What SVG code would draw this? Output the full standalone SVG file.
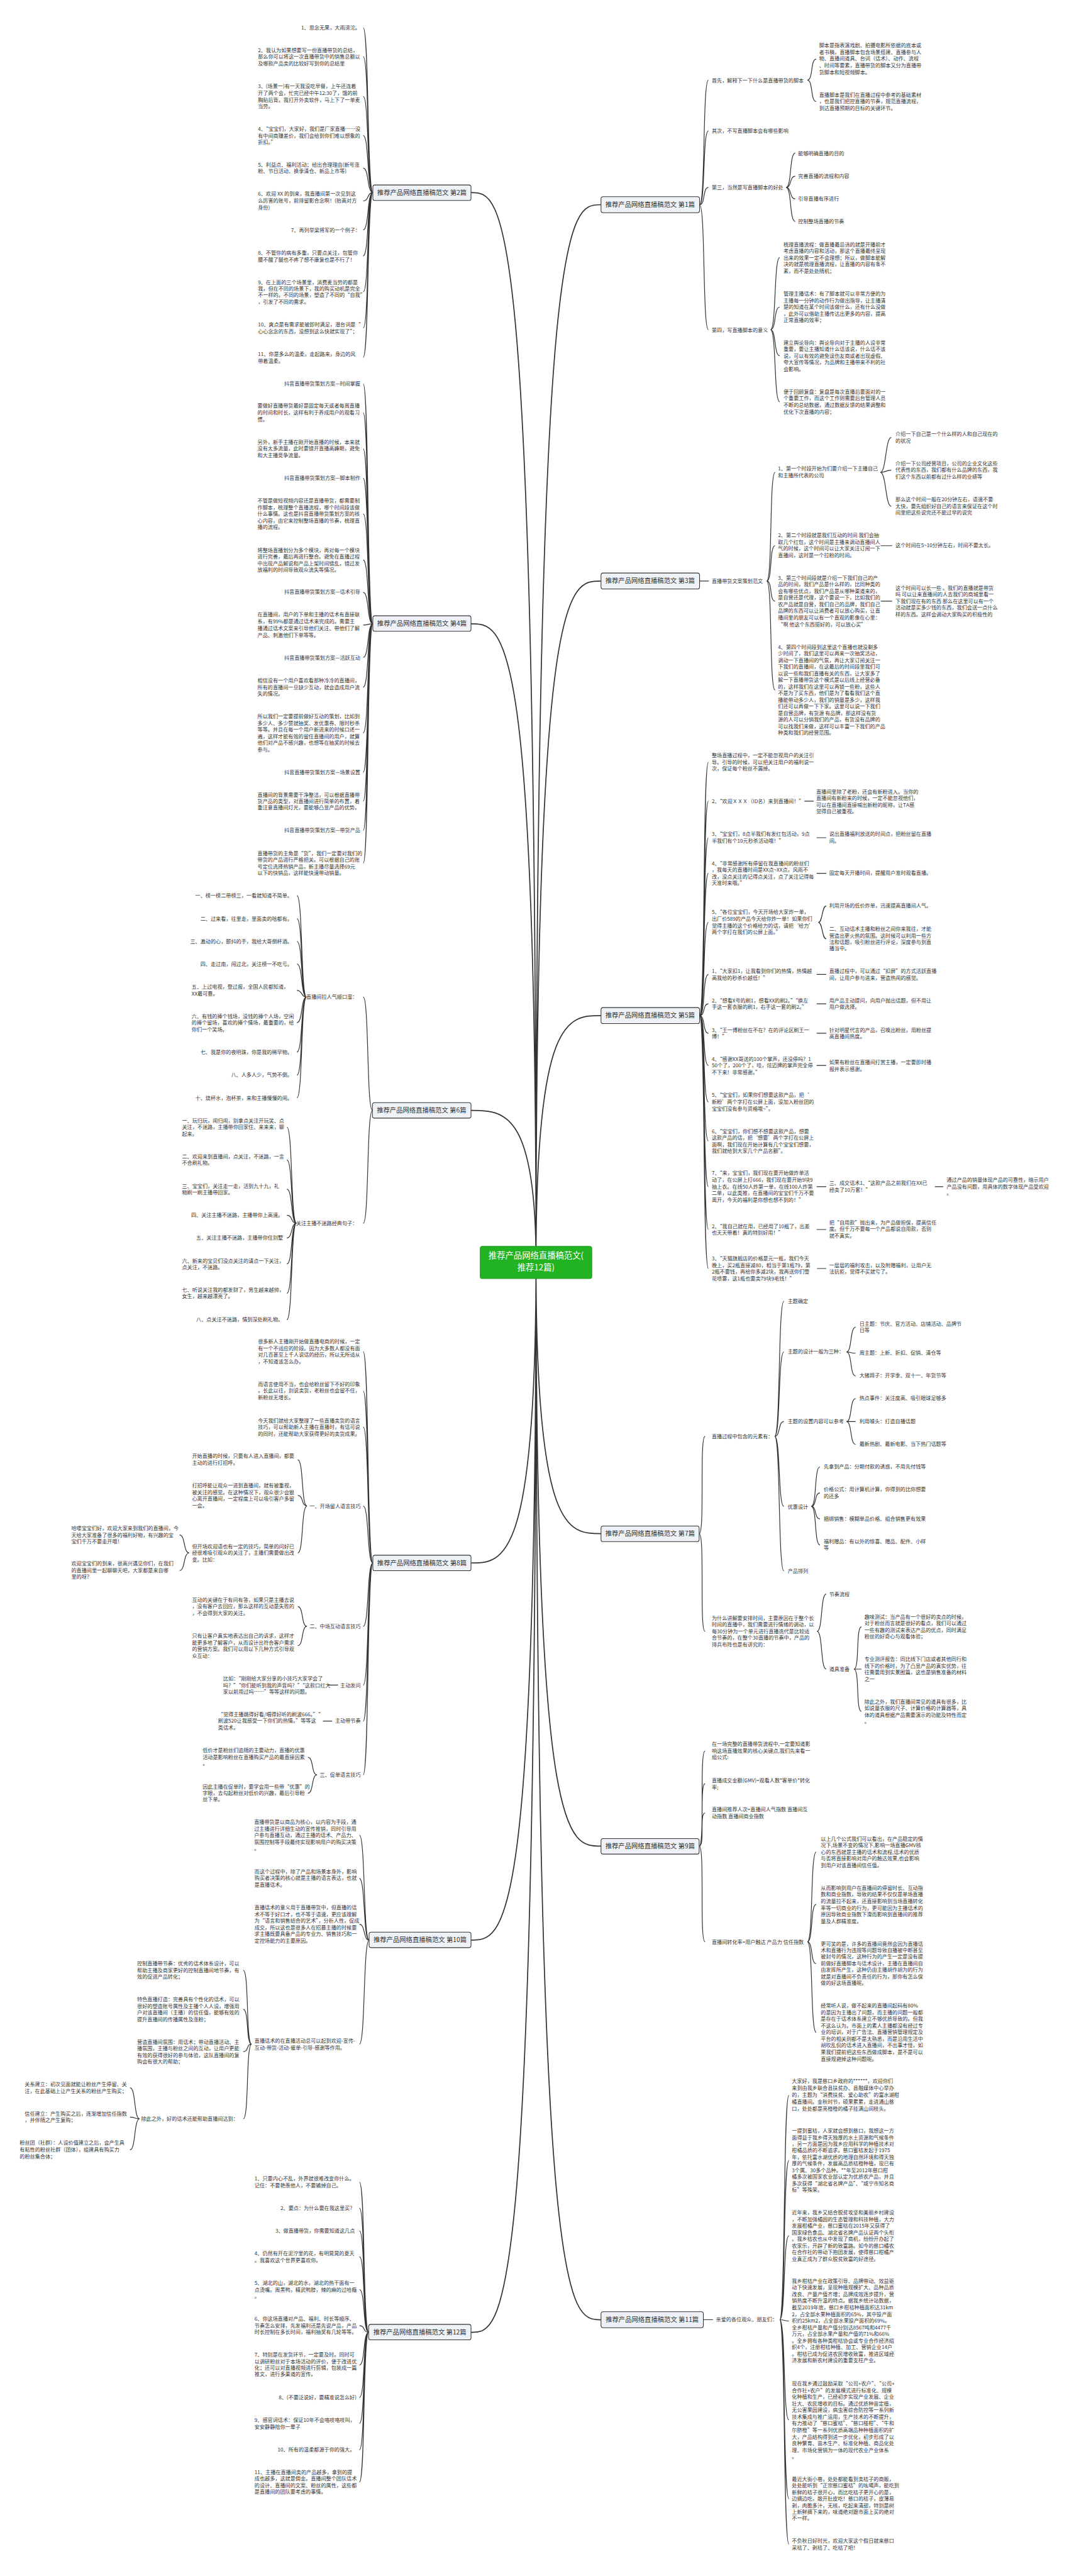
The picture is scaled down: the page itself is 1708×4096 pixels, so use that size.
<svg xmlns="http://www.w3.org/2000/svg" width="1708" height="4096" viewBox="0 0 1708 4096">
<style>
.t{font-family:"Noto Sans CJK SC","Noto Sans",sans-serif;font-size:12.2px;fill:#333}
.e{text-anchor:end}
.nt{font-family:"Noto Sans CJK SC","Noto Sans",sans-serif;font-size:15.5px;fill:#333;text-anchor:middle}
.ct{font-family:"Noto Sans CJK SC","Noto Sans",sans-serif;font-size:20px;fill:#fff;text-anchor:middle}
.box{fill:#eef2f7;stroke:#333;stroke-width:1.6}
.cbox{fill:#22b322;stroke:#1c9a1c;stroke-width:1.5}
.c{fill:none;stroke:#333;stroke-width:1.8}
.m{fill:none;stroke:#333;stroke-width:2.6}
</style>
<rect width="1708" height="4096" fill="#fff"/>
<g transform="scale(0.667)">
<g id="connectors">
<path class="m" d="M1278 3010C1278 488 1355 488 1433 488M1278 3010C1278 1385 1355 1385 1433 1385M1278 3010C1278 2421 1355 2421 1433 2421M1278 3010C1278 3656 1355 3656 1433 3656M1278 3010C1278 4401 1355 4401 1433 4401M1278 3010C1278 5530 1355 5530 1433 5530M1278 3010C1278 459 1200 459 1123 459M1278 3010C1278 1487 1200 1487 1123 1487M1278 3010C1278 2647 1200 2647 1123 2647M1278 3010C1278 3726 1200 3726 1123 3726M1278 3010C1278 4625 1200 4625 1123 4625M1278 3010C1278 5560 1200 5560 1123 5560"/>
<path class="c" d="M889 459C875 459 880 66 866 66M889 459C875 459 880 135 866 135M889 459C875 459 880 230 866 230M889 459C875 459 880 323 866 323M889 459C875 459 880 401 866 401M889 459C875 459 880 479 866 479M889 459C875 459 880 548 866 548M889 459C875 459 880 610 866 610M889 459C875 459 880 696 866 696M889 459C875 459 880 782 866 782M889 459C875 459 880 852 866 852"/>
<path class="c" d="M889 1487C875 1487 880 915 866 915M889 1487C875 1487 880 984 866 984M889 1487C875 1487 880 1070 866 1070M889 1487C875 1487 880 1140 866 1140M889 1487C875 1487 880 1225 866 1225M889 1487C875 1487 880 1335 866 1335M889 1487C875 1487 880 1412 866 1412M889 1487C875 1487 880 1490 866 1490M889 1487C875 1487 880 1567 866 1567M889 1487C875 1487 880 1638 866 1638M889 1487C875 1487 880 1747 866 1747M889 1487C875 1487 880 1841 866 1841M889 1487C875 1487 880 1910 866 1910M889 1487C875 1487 880 1980 866 1980M889 1487C875 1487 880 2058 866 2058"/>
<path class="c" d="M888 2647C874 2647 880 2377 866 2377M888 2647C874 2647 880 2916 866 2916M731 2377C717 2377 722 2135 708 2135M731 2377C717 2377 722 2190 708 2190M731 2377C717 2377 722 2244 708 2244M731 2377C717 2377 722 2298 708 2298M731 2377C717 2377 722 2361 708 2361M731 2377C717 2377 722 2438 708 2438M731 2377C717 2377 722 2508 708 2508M731 2377C717 2377 722 2563 708 2563M731 2377C717 2377 722 2617 708 2617M707 2916C693 2916 698 2687 684 2687M707 2916C693 2916 698 2765 684 2765M707 2916C693 2916 698 2835 684 2835M707 2916C693 2916 698 2897 684 2897M707 2916C693 2916 698 2951 684 2951M707 2916C693 2916 698 3013 684 3013M707 2916C693 2916 698 3083 684 3083M707 2916C693 2916 698 3146 684 3146"/>
<path class="c" d="M889 3726C875 3726 880 3222 866 3222M889 3726C875 3726 880 3316 866 3316M889 3726C875 3726 880 3402 866 3402M889 3726C875 3726 880 3590 866 3590M889 3726C875 3726 880 3877 866 3877M889 3726C875 3726 880 4017 866 4017M889 3726C875 3726 880 4103 866 4103M889 3726C875 3726 880 4231 866 4231M732 3590C718 3590 724 3480 710 3480M732 3590C718 3590 724 3565 710 3565M732 3590C718 3590 724 3702 710 3702M451 3702C437 3702 442 3659 428 3659M451 3702C437 3702 442 3744 428 3744M732 3877C718 3877 724 3830 710 3830M732 3877C718 3877 724 3923 710 3923M806 4017H782M792 4103H770M756 4231C742 4231 748 4189 734 4189M756 4231C742 4231 748 4275 734 4275"/>
<path class="c" d="M880 4625C866 4625 871 4375 857 4375M880 4625C866 4625 871 4478 857 4478M880 4625C866 4625 871 4587 857 4587M880 4625C866 4625 871 4873 857 4873M600 4873C586 4873 594 4697 580 4697M600 4873C586 4873 594 4790 580 4790M600 4873C586 4873 594 4891 580 4891M600 4873C586 4873 594 5051 580 5051M333 5051C319 5051 324 4977 310 4977M333 5051C319 5051 324 5047 310 5047M333 5051C319 5051 324 5125 310 5125"/>
<path class="c" d="M879 5560C865 5560 871 5202 857 5202M879 5560C865 5560 871 5264 857 5264M879 5560C865 5560 871 5318 857 5318M879 5560C865 5560 871 5380 857 5380M879 5560C865 5560 871 5458 857 5458M879 5560C865 5560 871 5544 857 5544M879 5560C865 5560 871 5638 857 5638M879 5560C865 5560 871 5715 857 5715M879 5560C865 5560 871 5777 857 5777M879 5560C865 5560 871 5840 857 5840M879 5560C865 5560 871 5917 857 5917"/>
<path class="c" d="M1668 488C1682 488 1675 191 1689 191M1668 488C1682 488 1675 312 1689 312M1668 488C1682 488 1675 447 1689 447M1668 488C1682 488 1675 786 1689 786M1925 191C1939 191 1932 141 1946 141M1925 191C1939 191 1932 242 1946 242M1874 447C1888 447 1882 365 1896 365M1874 447C1888 447 1882 420 1896 420M1874 447C1888 447 1882 474 1896 474M1874 447C1888 447 1882 528 1896 528M1837 786C1851 786 1845 614 1859 614M1837 786C1851 786 1845 732 1859 732M1837 786C1851 786 1845 848 1859 848M1837 786C1851 786 1845 958 1859 958"/>
<path class="c" d="M1668 1385H1690M1828 1385C1842 1385 1834 1126 1848 1126M1828 1385C1842 1385 1834 1301 1848 1301M1828 1385C1842 1385 1834 1433 1848 1433M1828 1385C1842 1385 1834 1645 1848 1645M2099 1126C2113 1126 2111 1043 2125 1043M2099 1126C2113 1126 2111 1121 2125 1121M2099 1126C2113 1126 2111 1207 2125 1207M2100 1301H2127M2100 1433H2127"/>
<path class="c" d="M1668 2421C1682 2421 1675 1817 1689 1817M1668 2421C1682 2421 1675 1910 1689 1910M1668 2421C1682 2421 1675 1997 1689 1997M1668 2421C1682 2421 1675 2082 1689 2082M1668 2421C1682 2421 1675 2199 1689 2199M1668 2421C1682 2421 1675 2323 1689 2323M1668 2421C1682 2421 1675 2393 1689 2393M1668 2421C1682 2421 1675 2463 1689 2463M1668 2421C1682 2421 1675 2540 1689 2540M1668 2421C1682 2421 1675 2627 1689 2627M1668 2421C1682 2421 1675 2720 1689 2720M1668 2421C1682 2421 1675 2829 1689 2829M1668 2421C1682 2421 1675 2931 1689 2931M1668 2421C1682 2421 1675 3024 1689 3024M1918 1910H1940M1947 1997H1970M1947 2082H1970M1951 2199C1962 2199 1959 2160 1970 2160M1951 2199C1962 2199 1959 2238 1970 2238M1947 2323H1970M1947 2393H1970M1947 2463H1970M1947 2540H1970M1947 2829H1970M2229 2829H2249M1947 2931H1970M1948 3024H1970"/>
<path class="c" d="M1667 3656C1681 3656 1667 3424 1681 3424M1667 3656C1681 3656 1667 3889 1681 3889M1847 3424C1861 3424 1855 3102 1869 3102M1847 3424C1861 3424 1855 3223 1869 3223M1847 3424C1861 3424 1855 3389 1869 3389M1847 3424C1861 3424 1855 3591 1869 3591M1847 3424C1861 3424 1855 3745 1869 3745M2018 3223C2032 3223 2026 3164 2040 3164M2018 3223C2032 3223 2026 3226 2040 3226M2018 3223C2032 3223 2026 3280 2040 3280M2018 3389C2032 3389 2026 3334 2040 3334M2018 3389C2032 3389 2026 3389 2040 3389M2018 3389C2032 3389 2026 3443 2040 3443M1934 3591C1948 3591 1941 3497 1955 3497M1934 3591C1948 3591 1941 3559 1955 3559M1934 3591C1948 3591 1941 3621 1955 3621M1934 3591C1948 3591 1941 3683 1955 3683M1948 3889C1962 3889 1956 3800 1970 3800M1948 3889C1962 3889 1956 3979 1970 3979M2036 3979C2050 3979 2040 3878 2054 3878M2036 3979C2050 3979 2040 3979 2054 3979M2036 3979C2050 3979 2040 4080 2054 4080"/>
<path class="c" d="M1667 4401C1681 4401 1667 4174 1681 4174M1667 4401C1681 4401 1667 4252 1681 4252M1667 4401C1681 4401 1667 4322 1681 4322M1667 4401C1681 4401 1667 4629 1681 4629M1925 4629C1939 4629 1932 4415 1946 4415M1925 4629C1939 4629 1932 4540 1946 4540M1925 4629C1939 4629 1932 4681 1946 4681M1925 4629C1939 4629 1932 4845 1946 4845"/>
<path class="c" d="M1677 5530H1700M1859 5530C1873 5530 1867 4995 1881 4995M1859 5530C1873 5530 1867 5150 1881 5150M1859 5530C1873 5530 1867 5330 1881 5330M1859 5530C1873 5530 1867 5533 1881 5533M1859 5530C1873 5530 1867 5769 1881 5769M1859 5530C1873 5530 1867 5957 1881 5957M1859 5530C1873 5530 1867 6065 1881 6065"/>
</g>
<g id="center"><rect class="cbox" x="1145" y="2971" width="266" height="77" rx="5"/><text class="ct" x="1278" y="3000">推荐产品网络直播稿范文(<tspan x="1278" dy="29">推荐12篇)</tspan></text></g>
<g id="b1"><rect class="box" x="1433" y="469" width="235" height="38" rx="5"/><text class="nt" x="1550" y="493.5">推荐产品网络直播稿范文 第1篇</text></g>
<g id="b2"><rect class="box" x="889" y="441" width="234" height="37" rx="5"/><text class="nt" x="1006" y="465">推荐产品网络直播稿范文 第2篇</text></g>
<g id="b3"><rect class="box" x="1433" y="1366" width="235" height="38" rx="5"/><text class="nt" x="1550" y="1390.5">推荐产品网络直播稿范文 第3篇</text></g>
<g id="b4"><rect class="box" x="889" y="1468" width="234" height="37" rx="5"/><text class="nt" x="1006" y="1492">推荐产品网络直播稿范文 第4篇</text></g>
<g id="b5"><rect class="box" x="1433" y="2402" width="235" height="38" rx="5"/><text class="nt" x="1550" y="2426.5">推荐产品网络直播稿范文 第5篇</text></g>
<g id="b6"><rect class="box" x="888" y="2628.5" width="235" height="37" rx="5"/><text class="nt" x="1005" y="2652.5">推荐产品网络直播稿范文 第6篇</text></g>
<g id="b7"><rect class="box" x="1433" y="3638" width="234" height="37" rx="5"/><text class="nt" x="1550" y="3661.5">推荐产品网络直播稿范文 第7篇</text></g>
<g id="b8"><rect class="box" x="889" y="3707.5" width="234" height="37" rx="5"/><text class="nt" x="1006" y="3731.5">推荐产品网络直播稿范文 第8篇</text></g>
<g id="b9"><rect class="box" x="1433" y="4383" width="234" height="37" rx="5"/><text class="nt" x="1550" y="4407">推荐产品网络直播稿范文 第9篇</text></g>
<g id="b10"><rect class="box" x="880" y="4606" width="243" height="37" rx="5"/><text class="nt" x="1001.5" y="4630">推荐产品网络直播稿范文 第10篇</text></g>
<g id="b11"><rect class="box" x="1433" y="5511" width="244" height="38" rx="5"/><text class="nt" x="1555" y="5535.5">推荐产品网络直播稿范文 第11篇</text></g>
<g id="b12"><rect class="box" x="879" y="5541" width="244" height="37" rx="5"/><text class="nt" x="1001" y="5565">推荐产品网络直播稿范文 第12篇</text></g>

<g id="p2" class="t">
<text class="e" x="859" y="70">1、思念无果，大雨滂沱。</text>
<text x="615" y="124">2、我认为如果想要写一份直播带货的总结，<tspan x="615" dy="15.7">那么你可以将这一次直播带货中的销售总额以</tspan><tspan x="615" dy="15.7">及哪款产品卖的比较好写到你的总结里</tspan></text>
<text x="615" y="210">3、(场景一)有一天我没吃早餐，上午还连着<tspan x="615" dy="16.2">开了两个会，忙完已经中午12:30了，饿的前</tspan><tspan x="615" dy="16.2">胸贴后背。我打开外卖软件，马上下了一单麦</tspan><tspan x="615" dy="16.2">当劳。</tspan></text>
<text x="615" y="312">4、“宝宝们，大家好，我们是厂家直播……没<tspan x="615" dy="15.7">有中间商赚差价，我们会给到你们难以想象的</tspan><tspan x="615" dy="15.7">折扣。”</tspan></text>
<text x="615" y="397">5、利益点、福利活动；给出合理理由(新号涨<tspan x="615" dy="15.7">粉、节日活动、换季清仓、新品上市等)</tspan></text>
<text x="615" y="467">6、欢迎 XX 的到来，我直播间第一次见到这<tspan x="615" dy="16">么厉害的账号，前排留影合念啊！(抬高对方</tspan><tspan x="615" dy="16">身份)</tspan></text>
<text class="e" x="859" y="553">7、再列举梁将军的一个例子：</text>
<text x="615" y="607">8、不管你的病有多重，只要点关注，包管你<tspan x="615" dy="16">腰不酸了腿也不疼了想不康复也是不行了！</tspan></text>
<text x="615" y="677">9、在上面的三个场景里，消费麦当劳的都是<tspan x="615" dy="15.6">我，但在不同的场景下，我的购买动机是完全</tspan><tspan x="615" dy="15.6">不一样的。不同的场景，塑造了不同的“自我”</tspan><tspan x="615" dy="15.6">，引发了不同的需求。</tspan></text>
<text x="615" y="778">10、爽点是有需求能被即时满足，潜台词是“<tspan x="615" dy="16">心心念念的东西，没想到这么快就实现了”；</tspan></text>
<text x="615" y="849">11、你是多么的温柔，走起路来，身边的风<tspan x="615" dy="16">带着温柔。</tspan></text>
</g>

<g id="p4" class="t">
<text class="e" x="859" y="919">抖音直播带货策划方案—时间掌握</text>
<text x="614" y="972">要做好直播带货最好是固定每天或者每周直播<tspan x="614" dy="16">的时间和时长，这样有利于养成用户的观看习</tspan><tspan x="614" dy="16">惯。</tspan></text>
<text x="614" y="1058">另外，新手主播在刚开始直播的时候，本来就<tspan x="614" dy="16">没有太多流量，此时要错开直播高峰期，避免</tspan><tspan x="614" dy="16">和大主播竞争流量。</tspan></text>
<text class="e" x="859" y="1144">抖音直播带货策划方案—脚本制作</text>
<text x="614" y="1198">不管是做短视频内容还是直播带货，都需要制<tspan x="614" dy="15.8">作脚本，梳理整个直播流程，哪个时间段该做</tspan><tspan x="614" dy="15.8">什么事情。这也是抖音直播带货策划方案的核</tspan><tspan x="614" dy="15.8">心内容，由它来控制整场直播的节奏，梳理直</tspan><tspan x="614" dy="15.8">播的流程。</tspan></text>
<text x="614" y="1316">将整场直播划分为多个模块，再对每一个模块<tspan x="614" dy="15.7">进行完善，最后再进行整合。避免在直播过程</tspan><tspan x="614" dy="15.7">中出现产品解说和产品上架时间错乱，错过发</tspan><tspan x="614" dy="15.7">放福利的时间导致观众流失等情况。</tspan></text>
<text class="e" x="859" y="1416">抖音直播带货策划方案—话术引导</text>
<text x="614" y="1470">在直播间，用户的下单和主播的话术有直接联<tspan x="614" dy="16.2">系，有99%都是通过话术来完成的。需要主</tspan><tspan x="614" dy="16.2">播通过话术文案来引导他们关注、带他们了解</tspan><tspan x="614" dy="16.2">产品、刺激他们下单等等。</tspan></text>
<text class="e" x="859" y="1572">抖音直播带货策划方案—活跃互动</text>
<text x="614" y="1627">相信没有一个用户喜欢看那种冷冷的直播间，<tspan x="614" dy="15.6">所有的直播间一旦缺少互动，就会造成用户流</tspan><tspan x="614" dy="15.6">失的情况。</tspan></text>
<text x="614" y="1712">所以我们一定要提前做好互动的策划，比如到<tspan x="614" dy="15.9">多少人、多少赞就抽奖、发优惠券、限时秒杀</tspan><tspan x="614" dy="15.9">等等。并且在每一个用户新进来的时候口述一</tspan><tspan x="614" dy="15.9">遍，这样才能有效的留住直播间的用户，就算</tspan><tspan x="614" dy="15.9">他们对产品不感兴趣，也想等在抽奖的时候去</tspan><tspan x="614" dy="15.9">参与。</tspan></text>
<text class="e" x="859" y="1845">抖音直播带货策划方案—场景设置</text>
<text x="614" y="1899">直播间的背景需要干净整洁，可以根据直播带<tspan x="614" dy="15.6">货产品的类型，对直播间进行简单的布置，着</tspan><tspan x="614" dy="15.6">重注意直播间灯光，要能够凸显产品的优势。</tspan></text>
<text class="e" x="859" y="1984">抖音直播带货策划方案—带货产品</text>
<text x="614" y="2039">直播带货的主角是“货”，我们一定要对我们的<tspan x="614" dy="15.7">带货的产品进行严格把关。可以根据自己的账</tspan><tspan x="614" dy="15.7">号定位选择热销产品，新主播尽量选择69元</tspan><tspan x="614" dy="15.7">以下的快销品，这样能快速带动销量。</tspan></text>
</g>

<g id="p6" class="t">
<text class="e" x="852" y="2381">直播间拉人气顺口溜：</text>
<text class="e" x="697" y="2139">一、榜一榜二带榜三，一看就知道不简单。</text>
<text class="e" x="697" y="2195">二、过来看，往里走，里面卖的啥都有。</text>
<text class="e" x="697" y="2249">三、激动的心，颤抖的手，我给大哥倒杯酒。</text>
<text class="e" x="697" y="2303">四、走过南，闯过北，关注榜一不吃亏。</text>
<text x="457" y="2357">五、上过电视，登过报，全国人民都知道，<tspan x="457" dy="15.7">XX最可靠。</tspan></text>
<text x="457" y="2427">六、有钱的捧个钱场，没钱的捧个人场，空闲<tspan x="457" dy="15.7">的捧个留场，喜欢的捧个情场，最重要的，给</tspan><tspan x="457" dy="15.7">你们一个笑场。</tspan></text>
<text class="e" x="697" y="2512">七、我是你的夜明珠，你是我的稀罕物。</text>
<text class="e" x="697" y="2567">八、人多人少，气势不倒。</text>
<text class="e" x="697" y="2622">十、烧杯水，泡杯茶，来和主播慢慢的闹。</text>
<text class="e" x="852" y="2920">关注主播不迷路经典句子：</text>
<text x="434" y="2676">一、玩归玩，闹归闹，别拿点关注开玩笑、点<tspan x="434" dy="15.7">关注，不迷路，主播带你回家住、来来来，聊</tspan><tspan x="434" dy="15.7">起来。</tspan></text>
<text x="434" y="2761">二、欢迎来到直播间，点关注，不迷路，一言<tspan x="434" dy="15.7">不合刷礼物。</tspan></text>
<text x="434" y="2832">三、宝宝们，关注走一走，活到九十九，礼<tspan x="434" dy="15.7">物刷一刷主播带回家。</tspan></text>
<text class="e" x="675" y="2901">四、关注主播不迷路，主播带你上高速。</text>
<text class="e" x="675" y="2955">五、关注主播不迷路，主播带你住别墅</text>
<text x="434" y="3010">六、新来的宝贝们没点关注的请点一下关注，<tspan x="434" dy="15.7">点关注，不迷路。</tspan></text>
<text x="434" y="3079">七、听说关注我的都发财了，男生越来越帅，<tspan x="434" dy="15.7">女生，越来越漂亮了。</tspan></text>
<text class="e" x="675" y="3150">八、点关注不迷路，情到深处刷礼物。</text>
</g>

<g id="p8" class="t">
<text x="615" y="3203">很多新人主播刚开始做直播电商的时候，一定<tspan x="615" dy="15.8">有一个不适应的阶段。因为大多数人都没有面</tspan><tspan x="615" dy="15.8">对几百甚至上千人说话的经历，所以无所适从</tspan><tspan x="615" dy="15.8">，不知道该怎么办。</tspan></text>
<text x="615" y="3304">而语言使用不当，也会给粉丝留下不好的印象<tspan x="615" dy="15.8">。长此以往，别说卖货，老粉丝也会留不住，</tspan><tspan x="615" dy="15.8">新粉丝无增长。</tspan></text>
<text x="615" y="3391">今天我们就给大家整理了一些直播卖货的语言<tspan x="615" dy="15.7">技巧，可以帮助新人主播在直播时，有话可说</tspan><tspan x="615" dy="15.7">的同时，还能帮助大家获得更好的卖货成果。</tspan></text>
<text class="e" x="860" y="3595">一、开场留人语言技巧</text>
<text x="458" y="3476">开始直播的时候，只要有人进入直播间，都要<tspan x="458" dy="15.7">主动的进行打招呼。</tspan></text>
<text x="458" y="3546">打招呼能让观众一进到直播间，就有被重视，<tspan x="458" dy="15.8">被关注的感觉。在这种情况下，观众很少会狠</tspan><tspan x="458" dy="15.8">心离开直播间，一定程度上可以吸引客户多留</tspan><tspan x="458" dy="15.8">一会。</tspan></text>
<text x="458" y="3691">但开场欢迎语也有一定的技巧，简单的问好已<tspan x="458" dy="15.5">经很难吸引观众的关注了，主播们需要做出改</tspan><tspan x="458" dy="15.5">变。比如：</tspan></text>
<text x="170" y="3648">哈喽宝宝们好，欢迎大家来到我们的直播间，今<tspan x="170" dy="15.7">天给大家准备了很多的福利好物，有兴趣的宝</tspan><tspan x="170" dy="15.7">宝们千万不要走开哦！</tspan></text>
<text x="170" y="3732">欢迎宝宝们的到来，很高兴遇见你们，在我们<tspan x="170" dy="15.7">的直播间里一起聊聊天吧，大家都是来自哪</tspan><tspan x="170" dy="15.7">里的呀？</tspan></text>
<text class="e" x="860" y="3882">二、中场互动语言技巧</text>
<text x="458" y="3818">互动的关键在于有问有答，如果只是主播去说<tspan x="458" dy="15.7">，没有客户去回应，那么这样的互动是失败的</tspan><tspan x="458" dy="15.7">，不会得到大家的关注。</tspan></text>
<text x="458" y="3904">只有让客户真实地表达出自己的诉求，这样才<tspan x="458" dy="15.8">能更多地了解客户，从而设计出符合客户需求</tspan><tspan x="458" dy="15.8">的营销方案。我们可以用以下几种方式引导观</tspan><tspan x="458" dy="15.8">众互动：</tspan></text>
<text class="e" x="860" y="4022">主动发问</text>
<text x="532" y="4006">比如：“刚刚给大家分享的小技巧大家学会了<tspan x="532" dy="15.8">吗？”“你们能听到我的声音吗？”“这款口红大</tspan><tspan x="532" dy="15.8">家以前用过吗……”等等这样的问题。</tspan></text>
<text class="e" x="860" y="4107">主动带节奏</text>
<text x="520" y="4091">“觉得主播跳得好看/唱得好听的刷波666。”“<tspan x="520" dy="15.8">刷波520让我感受一下你们的热情。”等等这</tspan><tspan x="520" dy="15.8">类话术。</tspan></text>
<text class="e" x="860" y="4236">三、促单语言技巧</text>
<text x="483" y="4177">低价才是粉丝们追随的主要动力，直播的优惠<tspan x="483" dy="15.8">活动是影响粉丝在直播购买产品的最直接因素</tspan><tspan x="483" dy="15.8">。</tspan></text>
<text x="483" y="4264">因此主播在促单时，要学会用一些带“优惠”的<tspan x="483" dy="15.3">字眼，去勾起粉丝对低价的兴趣，最后引导粉</tspan><tspan x="483" dy="15.3">丝下单。</tspan></text>
</g>

<g id="p10" class="t">
<text x="606" y="4348">直播带货是以商品为核心，以内容为手段，通<tspan x="606" dy="15.8">过主播进行详细生动的宣传推销，同时引导用</tspan><tspan x="606" dy="15.8">户参与直播互动，通过主播的话术、产品力、</tspan><tspan x="606" dy="15.8">氛围控制等手段最终实现影响用户的购买决策</tspan><tspan x="606" dy="15.8">。</tspan></text>
<text x="607" y="4466">而这个过程中，除了产品和场景本身外，影响<tspan x="607" dy="15.8">购买者决策的核心就是主播的语言表达，也就</tspan><tspan x="607" dy="15.8">是直播话术。</tspan></text>
<text x="607" y="4552">直播话术的意义用于直播带货中，但直播的话<tspan x="607" dy="15.7">术不等于好口才，也不等于语速，更应该理解</tspan><tspan x="607" dy="15.7">为“语言和销售结合的艺术”，分析人性，促成</tspan><tspan x="607" dy="15.7">成交，所以这也是很多人在招募主播的时候要</tspan><tspan x="607" dy="15.7">求主播既要具备产品的专业力、销售技巧和一</tspan><tspan x="607" dy="15.7">定控场能力的主要原因。</tspan></text>
<text x="607" y="4870">直播话术的在直播活动总可以起到欢迎-宣传-<tspan x="607" dy="15.5">互动-带货-活动-催单-引导-感谢等作用。</tspan></text>
<text x="327" y="4685">控制直播带节奏：优秀的话术体系设计，可以<tspan x="327" dy="16">帮助主播及商家更好的控制直播间地节奏，有</tspan><tspan x="327" dy="16">效的促进产品转化；</tspan></text>
<text x="327" y="4771">特色直播打造：完善具有个性化的话术，可以<tspan x="327" dy="15.7">很好的塑造账号属性及主播个人人设，增强用</tspan><tspan x="327" dy="15.7">户对该直播间（主播）的信任值，能够有效的</tspan><tspan x="327" dy="15.7">提升直播间的传播属性及涨粉；</tspan></text>
<text x="327" y="4872">营造直播间氛围：用话术；带动直播活动、主<tspan x="327" dy="15.7">播氛围，主播与粉丝之间的互动，让用户更能</tspan><tspan x="327" dy="15.7">有效的获得很好的参与体验，这队直播间的复</tspan><tspan x="327" dy="15.7">购会有很大的帮助；</tspan></text>
<text class="e" x="568" y="5056">除此之外，好的话术还能帮助直播间达到：</text>
<text x="59" y="4973">关系建立：初次见面就能让粉丝产生停留、关<tspan x="59" dy="16">注，在此基础上让产生关系的粉丝产生购买；</tspan></text>
<text x="59" y="5043">信任建立：产生购买之后，逐渐增加信任指数<tspan x="59" dy="16">，并伴随之产生复购；</tspan></text>
<text x="47" y="5113">粉丝团（社群）：人设价值建立之后，会产生具<tspan x="47" dy="16">有粘性的粉丝社群（团体），组建具有购买力</tspan><tspan x="47" dy="16">的粉丝集合体；</tspan></text>
</g>

<g id="p12" class="t">
<text x="607" y="5198">1、只要内心不乱，外界就很难改变你什么。<tspan x="607" dy="16">记住：不要艳羡他人，不要输掉自己。</tspan></text>
<text class="e" x="846" y="5268">2、要点：为什么要在我这里买？</text>
<text class="e" x="846" y="5322">3、做直播带货，你需要知道这几点</text>
<text x="607" y="5377">4、仍然有开在泥泞里的花，有明晃晃的夏天<tspan x="607" dy="16">。我喜欢这个世界更喜欢你。</tspan></text>
<text x="607" y="5447">5、湖北的山，湖北的水，湖北的热干面有一<tspan x="607" dy="16">点烫嘴。周黑鸭，精武鸭脖，辣的麻的过哈瘾</tspan><tspan x="607" dy="16">。</tspan></text>
<text x="607" y="5532">6、你这场直播对产品、福利、时长等顺序、<tspan x="607" dy="16">节奏怎么安排，先发福利还是先说产品，产品</tspan><tspan x="607" dy="16">时长控制在多长时间，福利抽奖有几轮等等。</tspan></text>
<text x="607" y="5618">7、特别是在发货环节，一定要及时。同时可<tspan x="607" dy="15.6">以调研粉丝对于本场活动的评价，便于改进优</tspan><tspan x="607" dy="15.6">化；还可以对直播视频进行剪辑，包装成一篇</tspan><tspan x="607" dy="15.6">推文，进行多渠道的宣传。</tspan></text>
<text class="e" x="850" y="5719">8、(不要泛说好，要精准说怎么好)</text>
<text x="607" y="5774">9、感官词话术：保证10年不会咯吱咯吱叫，<tspan x="607" dy="15.6">安安静静陪你一辈子</tspan></text>
<text class="e" x="846" y="5844">10、所有的温柔都源于你的强大。</text>
<text x="607" y="5898">11、主播在直播间卖的产品越多，拿到的提<tspan x="607" dy="15.6">成也越多，这就是佣金。直播间整个团队话术</tspan><tspan x="607" dy="15.6">的设计、直播间的文案、粉丝的属性，这些都</tspan><tspan x="607" dy="15.6">是直播间的团队要考虑的事情。</tspan></text>
</g>

<g id="p1" class="t">
<text x="1697" y="196">首先，解释下一下什么是直播带货的脚本</text>
<text x="1953" y="113">脚本是指表演戏剧、拍摄电影所依据的底本或<tspan x="1953" dy="15.8">者书稿，直播脚本包含场景搭建、直播参与人</tspan><tspan x="1953" dy="15.8">物、直播间道具、台词（话术）、动作、流程</tspan><tspan x="1953" dy="15.8">、时间等要素，直播带货的脚本又分为直播带</tspan><tspan x="1953" dy="15.8">货脚本和短视频脚本。</tspan></text>
<text x="1953" y="231">直播脚本是我们在直播过程中参考的基础素材<tspan x="1953" dy="15.5">，也是我们把控直播的节奏，规范直播流程，</tspan><tspan x="1953" dy="15.5">到达直播预期的目标的关键环节。</tspan></text>
<text x="1697" y="316">其次，不写直播脚本会有哪些影响</text>
<text x="1697" y="451">第三，当然是写直播脚本的好处</text>
<text x="1903" y="370">能够明确直播的目的</text>
<text x="1903" y="424">完善直播的流程和内容</text>
<text x="1903" y="478">引导直播有序进行</text>
<text x="1903" y="532">控制整场直播的节奏</text>
<text x="1697" y="791">第四，写直播脚本的意义</text>
<text x="1868" y="587">梳理直播流程：做直播最忌讳的就是开播前才<tspan x="1868" dy="15.8">考虑直播的内容和活动，那这个直播最终呈现</tspan><tspan x="1868" dy="15.8">出来的效果一定不会理想；所以，做脚本能解</tspan><tspan x="1868" dy="15.8">决的就是梳理直播流程，让直播的内容有条不</tspan><tspan x="1868" dy="15.8">紊，而不是处处随机；</tspan></text>
<text x="1868" y="705">管理主播话术：有了脚本就可以非常方便的为<tspan x="1868" dy="15.8">主播每一分钟的动作行为做出指导，让主播清</tspan><tspan x="1868" dy="15.8">楚的知道在某个时间该做什么，还有什么没做</tspan><tspan x="1868" dy="15.8">，此外可以借助主播传达出更多的内容，提高</tspan><tspan x="1868" dy="15.8">正常直播的效率；</tspan></text>
<text x="1868" y="821">建立舆论导向：舆论导向对于主播的人设非常<tspan x="1868" dy="15.8">重要，要让主播知道什么话该说，什么话不该</tspan><tspan x="1868" dy="15.8">说，可以有效的避免误伤友商或者出现虚假、</tspan><tspan x="1868" dy="15.8">夸大宣传等情况，为品牌和主播带来不利的社</tspan><tspan x="1868" dy="15.8">会影响。</tspan></text>
<text x="1868" y="938">便于回顾复盘：复盘是每次直播后要面对的一<tspan x="1868" dy="16">个重要工作，而这个工作则需要后台管理人员</tspan><tspan x="1868" dy="16">不断的总结数据，通过数据反馈的结果调整和</tspan><tspan x="1868" dy="16">优化下次直播的内容；</tspan></text>
</g>

<g id="p3" class="t">
<text x="1697" y="1390">直播带货文案策划范文</text>
<text x="1855" y="1122">1、第一个时段开始为们要介绍一下主播自己<tspan x="1855" dy="16">和主播所代表的公司</tspan></text>
<text x="2135" y="1039">介绍一下自己是一个什么样的人和自己现在的<tspan x="2135" dy="16">的状况</tspan></text>
<text x="2135" y="1109">介绍一下公司经营项目，公司的企业文化这些<tspan x="2135" dy="16">代表性的东西，我们都有什么品牌的东西，我</tspan><tspan x="2135" dy="16">们这个东西以前都有过什么样的业绩等</tspan></text>
<text x="2135" y="1195">那么这个时间一般在20分钟左右，语速不要<tspan x="2135" dy="16">太快，要先组织好自己的语言来保证在这个时</tspan><tspan x="2135" dy="16">间里把这些说完还不能过早的说完</tspan></text>
<text x="1855" y="1281">2、第二个时段就是我们互动的时间 我们会抽<tspan x="1855" dy="15.7">取几个红包，这个时间是主播来调动直播间人</tspan><tspan x="1855" dy="15.7">气的时候，这个时间可以让大家关注订阅一下</tspan><tspan x="1855" dy="15.7">直播间，这时是一个拉粉的时间。</tspan></text>
<text x="2135" y="1305">这个时间在5~10分钟左右，时间不要太长。</text>
<text x="1855" y="1382">3、第三个时间段就是介绍一下我们自己的产<tspan x="1855" dy="15.8">品的时间，我们产品是什么样的，比同种类的</tspan><tspan x="1855" dy="15.8">会有哪些优点，我们产品是从哪种渠道来的，</tspan><tspan x="1855" dy="15.8">是自营还是代理，这个要说一下，比如我们的</tspan><tspan x="1855" dy="15.8">农产品就是自营，我们自己的品牌，我们自己</tspan><tspan x="1855" dy="15.8">品牌的东西可以让消费者可以放心购买，让直</tspan><tspan x="1855" dy="15.8">播间里的朋友可以有一个直观的影像在心里：</tspan><tspan x="1855" dy="15.8">“啊 他这个东西挺好的，可以放心买”</tspan></text>
<text x="2135" y="1406">这个时间可以长一些 。我们的直播就是带货<tspan x="2135" dy="15.8">吗 可以让来直播间的人去我们的商城里看一</tspan><tspan x="2135" dy="15.8">下我们现在有的东西 那么在这里可以有一个</tspan><tspan x="2135" dy="15.8">活动就是买多少钱的东西，我们会送一点什么</tspan><tspan x="2135" dy="15.8">样的东西。这样会调动大家购买的积极性的</tspan></text>
<text x="1855" y="1547">4、第四个时间段到这里这个直播也就没剩多<tspan x="1855" dy="15.7">少时间了，我们这里可以再来一次抽奖活动，</tspan><tspan x="1855" dy="15.7">调动一下直播间的气氛，再让大家订阅关注一</tspan><tspan x="1855" dy="15.7">下我们的直播间，在这最后的时间段里我们可</tspan><tspan x="1855" dy="15.7">以说一些和我们直播有关的东西，让大家多了</tspan><tspan x="1855" dy="15.7">解一下直播带货这个模式是以后线上经营必备</tspan><tspan x="1855" dy="15.7">的，这样我们在这里可以再锁一些粉，这些人</tspan><tspan x="1855" dy="15.7">不是为了买东西，他们是为了看看我们这个直</tspan><tspan x="1855" dy="15.7">播能带动多少人，我们的销量是多少，这样我</tspan><tspan x="1855" dy="15.7">们还可以再做一下下家。这里可以说一下我们</tspan><tspan x="1855" dy="15.7">是自营品牌，有货源 有品牌，那这样没有货</tspan><tspan x="1855" dy="15.7">源的人可以分销我们的产品，有货没有品牌的</tspan><tspan x="1855" dy="15.7">可以找我们来做，这样可以丰富一下我们的产品</tspan><tspan x="1855" dy="15.7">种类和我们的经营范围。</tspan></text>
</g>

<g id="p5" class="t">
<text x="1697" y="1805">整场直播过程中，一定不能忽视用户的关注引<tspan x="1697" dy="16">导。引导的时候，可以把关注用户的福利说一</tspan><tspan x="1697" dy="16">次，保证每个粉丝不漏掉。</tspan></text>
<text x="1697" y="1915">2、“欢迎ＸＸＸ（ID名）来到直播间！”</text>
<text x="1946" y="1892">直播间里除了老粉，还会有新粉进入。当你的<tspan x="1946" dy="15.5">直播间有新粉来的时候，一定不能忽视他们，</tspan><tspan x="1946" dy="15.5">可以在直播间直接喊出新粉的昵称，让TA感</tspan><tspan x="1946" dy="15.5">觉得自己被重视。</tspan></text>
<text x="1697" y="1993">3、“宝宝们，8点半我们有发红包活动，9点<tspan x="1697" dy="16">半我们有个10元秒杀活动哦！”</tspan></text>
<text x="1977" y="1993">说出直播福利放送的时间点，把粉丝留在直播<tspan x="1977" dy="16">间。</tspan></text>
<text x="1697" y="2063">4、“非常感谢所有停留在我直播间的粉丝们<tspan x="1697" dy="15.7">，我每天的直播时间是XX点~XX点，风雨不</tspan><tspan x="1697" dy="15.7">改，没点关注的记得点关注，点了关注记得每</tspan><tspan x="1697" dy="15.7">天准时来哦。”</tspan></text>
<text x="1977" y="2086">固定每天开播时间，提醒用户准时观看直播。</text>
<text x="1697" y="2179">5、“各位宝宝们，今天开场给大家炸一单，<tspan x="1697" dy="16">出厂价589的产品今天给你炸一单！如果你们</tspan><tspan x="1697" dy="16">觉得主播的这个价格给力的话，请把‘给力’</tspan><tspan x="1697" dy="16">两个字打在我们的公屏上面。”</tspan></text>
<text x="1977" y="2164">利用开场的低价炸单，迅速提高直播间人气。</text>
<text x="1977" y="2219">二、互动话术主播和粉丝之间你来我往，才能<tspan x="1977" dy="15.7">营造出更火热的氛围。这时候可以利用一些方</tspan><tspan x="1977" dy="15.7">法和话题，吸引粉丝进行评论，深度参与到直</tspan><tspan x="1977" dy="15.7">播当中。</tspan></text>
<text x="1697" y="2320">1、“大家扣1，让我看到你们的热情，热情越<tspan x="1697" dy="15.5">高我给的秒杀价越低！”</tspan></text>
<text x="1977" y="2320">直播过程中，可以通过“扣屏”的方式活跃直播<tspan x="1977" dy="15.5">间，让用户参与进来，营造热闹的感觉。</tspan></text>
<text x="1697" y="2390">2、“想看X号的刷1，想看XX的刷2。”“换左<tspan x="1697" dy="15.5">手这一套衣服的刷1，右手这一套的刷2。”</tspan></text>
<text x="1977" y="2390">用产品主动提问，向用户抛出话题，但不用让<tspan x="1977" dy="15.5">用户做选择。</tspan></text>
<text x="1697" y="2460">3、“王一博粉丝在不在？在的评论区刷王一<tspan x="1697" dy="16">博！”</tspan></text>
<text x="1977" y="2460">针对明星代言的产品，召唤出粉丝，用粉丝提<tspan x="1977" dy="16">高直播间热度。</tspan></text>
<text x="1697" y="2529">4、“感谢XX哥送的100个掌声，还没停吗？1<tspan x="1697" dy="15.6">50个了，200个了，哇，炫迈牌的掌声完全停</tspan><tspan x="1697" dy="15.6">不下来！非常感谢。”</tspan></text>
<text x="1977" y="2537">如果有粉丝在直播间打赏主播，一定要即时播<tspan x="1977" dy="16">报并表示感谢。</tspan></text>
<text x="1697" y="2615">5、“宝宝们，如果你们想要这款产品，把‘<tspan x="1697" dy="16">新粉’两个字打在公屏上面，没加入粉丝团的</tspan><tspan x="1697" dy="16">宝宝们没有参与资格哦~”。</tspan></text>
<text x="1697" y="2701">6、“宝宝们，你们想不想要这款产品，想要<tspan x="1697" dy="15.7">这款产品的话，把‘想要’两个字打在公屏上</tspan><tspan x="1697" dy="15.7">面啊，我们现在开始计算有几个宝宝们想要，</tspan><tspan x="1697" dy="15.7">我们就给到大家几个产品名额”。</tspan></text>
<text x="1697" y="2801">7、“来，宝宝们，我们现在要开始做炸单活<tspan x="1697" dy="16">动了，在公屏上打666，我们现在要开始9块9</tspan><tspan x="1697" dy="16">抽上衣。在线50人炸第一单，在线100人炸第</tspan><tspan x="1697" dy="16">二单，以此类推，在直播间的宝宝们千万不要</tspan><tspan x="1697" dy="16">离开，今天的福利是你想也想不到的！”</tspan></text>
<text x="1977" y="2825">三、成交话术1、“这款产品之前我们在XX已<tspan x="1977" dy="16">经卖了10万套！”</tspan></text>
<text x="2257" y="2817">通过产品的销量体现产品的可靠性，暗示用户<tspan x="2257" dy="16">产品没有问题，用具体的数字体现产品受欢迎</tspan><tspan x="2257" dy="16">。</tspan></text>
<text x="1697" y="2928">2、“我自己就在用，已经用了10瓶了，出差<tspan x="1697" dy="15.5">也天天带着！真的特别好用！”</tspan></text>
<text x="1977" y="2919">把“自用款”抛出来，为产品做担保，提高信任<tspan x="1977" dy="15.7">度。但千万不要每一个产品都说自用款，否则</tspan><tspan x="1977" dy="15.7">就不真实。</tspan></text>
<text x="1697" y="3005">3、“天猫旗舰店的价格是元一瓶，我们今天<tspan x="1697" dy="15.7">晚上，买2瓶直接减80，相当于第1瓶79，第</tspan><tspan x="1697" dy="15.7">2瓶不要钱，再给你多减2块，我再送你们雪</tspan><tspan x="1697" dy="15.7">花喷雾，这1瓶也要卖79块9毛钱！”</tspan></text>
<text x="1977" y="3021">一层层的福利攻击，以及附赠福利，让用户无<tspan x="1977" dy="15.7">法抗拒，觉得不买就亏了。</tspan></text>
</g>

<g id="p7" class="t">
<text x="1697" y="3429">直播过程中包含的元素有：</text>
<text x="1878" y="3106">主题确定</text>
<text x="1878" y="3227">主题的设计一般为三种：</text>
<text x="2049" y="3160">日主题：节庆、官方活动、店铺活动、品牌节<tspan x="2049" dy="15.8">日等</tspan></text>
<text x="2049" y="3230">周主题：上新、折扣、促销、清仓等</text>
<text x="2049" y="3284">大猪蹄子：开学季、双十一、年货节等</text>
<text x="1878" y="3393">主题的设置内容可以参考</text>
<text x="2049" y="3338">热点事件：关注度高、吸引眼球足够多</text>
<text x="2049" y="3393">利用噱头：打造自播话题</text>
<text x="2049" y="3447">最新热剧、最新电影、当下热门话题等</text>
<text x="1878" y="3596">优惠设计</text>
<text x="1964" y="3501">先拿到产品：分期付款的诱惑，不用先付钱等</text>
<text x="1964" y="3555">价格公式：用计算机计算，你得到的比你想要<tspan x="1964" dy="15.7">的还多</tspan></text>
<text x="1964" y="3625">捆绑销售：模糊单品价格、组合销售更有效果</text>
<text x="1964" y="3679">福利赠品：有以外的惊喜、赠品、配件、小样<tspan x="1964" dy="15.7">等</tspan></text>
<text x="1878" y="3750">产品排列</text>
<text x="1697" y="3862">为什么讲解要安排时间，主要原因在于整个长<tspan x="1697" dy="15.7">时间的直播中，我们需要进行情绪的调动，以</tspan><tspan x="1697" dy="15.7">每30分钟为一个单元进行直播迭代是比较适</tspan><tspan x="1697" dy="15.7">合节奏的，在整个30直播的节奏中，产品的</tspan><tspan x="1697" dy="15.7">排兵布阵也是有讲究的：</tspan></text>
<text x="1977" y="3805">节奏流程</text>
<text x="1977" y="3983">道具准备</text>
<text x="2061" y="3859">趣味测试：当产品有一个很好的卖点的时候，<tspan x="2061" dy="15.7">对于粉丝而言就是很好的看点，我们可以通过</tspan><tspan x="2061" dy="15.7">一些有趣的测试来表达产品的优点，同时满足</tspan><tspan x="2061" dy="15.7">粉丝的好奇心与观看体验；</tspan></text>
<text x="2061" y="3960">专业测评报告：同比线下门店或者其他同行和<tspan x="2061" dy="15.7">线下的价格时，为了凸显产品的真实优势，往</tspan><tspan x="2061" dy="15.7">往需要用到实景图篇，这也是销售准备的材料</tspan><tspan x="2061" dy="15.7">之一</tspan></text>
<text x="2061" y="4061">除此之外，我们直播间常见的道具有很多，比<tspan x="2061" dy="15.7">如说量衣服的尺子、计算价格的计算器等，具</tspan><tspan x="2061" dy="15.7">体的道具根据产品需要演示的功能及特性而定</tspan><tspan x="2061" dy="15.7">。</tspan></text>
</g>

<g id="p9" class="t">
<text x="1697" y="4162">在一场完整的直播带货流程中,一定要知道影<tspan x="1697" dy="15.7">响这场直播效果的核心关键点,我们先来看一</tspan><tspan x="1697" dy="15.7">组公式:</tspan></text>
<text x="1697" y="4249">直播成交金额(GMV)=观看人数*客单价*转化<tspan x="1697" dy="15.7">率;</tspan></text>
<text x="1697" y="4318">直播间推荐人次=直播间人气指数 直播间互<tspan x="1697" dy="15.7">动指数 直播间商业指数</tspan></text>
<text x="1697" y="4634">直播间转化率=用户触达 产品力 信任指数</text>
<text x="1957" y="4388">以上几个公式我们可以看出，在产品稳定的情<tspan x="1957" dy="15.7">况下,场景不变的情况下,影响一场直播GMV核</tspan><tspan x="1957" dy="15.7">心的东西就是主播的话术和流程,话术的优质</tspan><tspan x="1957" dy="15.7">与否将直接影响对用户的触达效果,也会影响</tspan><tspan x="1957" dy="15.7">到用户对该直播间信任值。</tspan></text>
<text x="1957" y="4505">从而影响到用户在直播间的停留时长、互动指<tspan x="1957" dy="15.9">数和商业指数，导致的结果不仅仅是单场直播</tspan><tspan x="1957" dy="15.9">的流量拉不起来，还直接影响到当场直播转化</tspan><tspan x="1957" dy="15.9">率等一切商业的行为，更可能因为主播话术的</tspan><tspan x="1957" dy="15.9">原因导致商业指数下滑而影响到直播间的推荐</tspan><tspan x="1957" dy="15.9">量及人群精准度。</tspan></text>
<text x="1957" y="4638">更可笑的是，许多的直播间竟然会因为直播话<tspan x="1957" dy="15.7">术和直播行为违规等问题导致自播被中断甚至</tspan><tspan x="1957" dy="15.7">被封号的情况，这种行为的产生一定是没有提</tspan><tspan x="1957" dy="15.7">前做好直播脚本与话术设计，主播在直播间自</tspan><tspan x="1957" dy="15.7">由发挥所产生，这种仍由主播胡作胡为的行为</tspan><tspan x="1957" dy="15.7">就是对直播间不负责任的行为，那你有怎么保</tspan><tspan x="1957" dy="15.7">做的好这场直播呢。</tspan></text>
<text x="1957" y="4786">经常听人说，做不起来的直播间起码有80%<tspan x="1957" dy="15.8">的是因为主播出了问题，而主播的问题一般都</tspan><tspan x="1957" dy="15.8">是存在于话术体系建立不够优质导致的。但我</tspan><tspan x="1957" dy="15.8">不这么认为。市面上的素人主播都没有经过专</tspan><tspan x="1957" dy="15.8">业的培训，对于广告法、直播营销管理规定及</tspan><tspan x="1957" dy="15.8">平台的相关则都不是太熟悉，而是沿用生活中</tspan><tspan x="1957" dy="15.8">胡吹乱侃的话术进入直播间，不出事才怪，如</tspan><tspan x="1957" dy="15.8">果我们提前把这些东西做成脚本，是不是可以</tspan><tspan x="1957" dy="15.8">直接规避掉这种问题呢。</tspan></text>
</g>

<g id="p11" class="t">
<text x="1707" y="5534">亲爱的各位观众、朋友们：</text>
<text x="1888" y="4966">大家好，我是慈口乡政府的******，欢迎你们<tspan x="1888" dy="16.2">来到由我乡联合县扶贫办、县融媒体中心举办</tspan><tspan x="1888" dy="16.2">的，主题为“消费扶贫、爱心助农”的富水湖柑</tspan><tspan x="1888" dy="16.2">橘直播间。金秋时节，硕果累累，走进通山慈</tspan><tspan x="1888" dy="16.2">口，处处都是亮橙橙的橘子挂满山间枝头。</tspan></text>
<text x="1888" y="5084">一提到蜜桔，人家就会想到慈口，我想这一方<tspan x="1888" dy="15.7">面得益于我乡得天独厚的水土资源和气候条件</tspan><tspan x="1888" dy="15.7">，另一方面是因为我乡应用科学的种植技术对</tspan><tspan x="1888" dy="15.7">柑橘品质的不断追求。慈口蜜桔发起于1975</tspan><tspan x="1888" dy="15.7">年，依托富水湖优质的地理自然环境和得天独</tspan><tspan x="1888" dy="15.7">厚的气候条件，发展高品质桔橙种植，现已有</tspan><tspan x="1888" dy="15.7">3个属、30多个品种。**年至2012年慈口柑</tspan><tspan x="1888" dy="15.7">橘多次被国家农业部认定为优质农产品，并且</tspan><tspan x="1888" dy="15.7">多次获得“湖北省名牌产品”、“咸宁市知名商</tspan><tspan x="1888" dy="15.7">标”等殊荣。</tspan></text>
<text x="1888" y="5279">近年来，我乡又结合脱贫攻坚和美丽乡村建设<tspan x="1888" dy="15.8">，不断加强橘园的生态管理和科技种植，大力</tspan><tspan x="1888" dy="15.8">发展柑橘产业，慈口蜜桔在2015年又获得了</tspan><tspan x="1888" dy="15.8">国家绿色食品、湖北省名牌产品认证两个头衔</tspan><tspan x="1888" dy="15.8">。我乡桔农也从中发现了商机，纷纷开办起了</tspan><tspan x="1888" dy="15.8">农家乐，开辟了新的致富路。如今的慈口橘农</tspan><tspan x="1888" dy="15.8">在合作社的带动下抱团发展，使得慈口柑橘产</tspan><tspan x="1888" dy="15.8">业真正成为了群众脱贫致富的好途径。</tspan></text>
<text x="1888" y="5442">我乡柑桔产业在政策引导、品牌带动、效益驱<tspan x="1888" dy="15.8">动下快速发展，呈现种植规模扩大、品种品质</tspan><tspan x="1888" dy="15.8">改良、产量产值齐增；品牌成效逐步提升，营</tspan><tspan x="1888" dy="15.8">销热度不断升温的特点。据我乡统计站数据，</tspan><tspan x="1888" dy="15.8">截至2019年底，慈口乡柑桔种植面积达31km</tspan><tspan x="1888" dy="15.8">2，占全部水果种植面积的65%，其中投产面</tspan><tspan x="1888" dy="15.8">积约25km2，占全部水果投产面积的69%。</tspan><tspan x="1888" dy="15.8">全乡柑桔产量和产值分别达8567吨和4477千</tspan><tspan x="1888" dy="15.8">万元，占全部水果产量和产值的71%和66%</tspan><tspan x="1888" dy="15.8">。全乡拥有各种类柑桔协会或专业合作经济组</tspan><tspan x="1888" dy="15.8">织4个，注册柑桔种植、加工、营销企业14户</tspan><tspan x="1888" dy="15.8">。柑桔已成为促进农民增收致富，推进区域经</tspan><tspan x="1888" dy="15.8">济发展和新农村建设的重要支柱产业。</tspan></text>
<text x="1888" y="5687">现在我乡通过鼓励采取“公司+农户”、“公司+<tspan x="1888" dy="15.8">合作社+农户”的发展模式进行标准化、规模</tspan><tspan x="1888" dy="15.8">化种植和生产，已经初步实现产业发展、企业</tspan><tspan x="1888" dy="15.8">壮大、农民增收的目标。通过优质种苗定植，</tspan><tspan x="1888" dy="15.8">无公害果园建设，病虫害综合防控等一系列新</tspan><tspan x="1888" dy="15.8">技术集成与推广运用，生产技术的不断提升，</tspan><tspan x="1888" dy="15.8">有力推动了“慈口蜜桔”、“慈口椪柑”、“牛和</tspan><tspan x="1888" dy="15.8">尔脐橙”等一系列优质高端品种种植面积的扩</tspan><tspan x="1888" dy="15.8">大，产品结构得到进一步优化，初步形成了以</tspan><tspan x="1888" dy="15.8">良种繁育、苗木生产、标准化种植、商品化处</tspan><tspan x="1888" dy="15.8">理、市场化营销为一体的现代农业产业体系</tspan><tspan x="1888" dy="15.8">。</tspan></text>
<text x="1888" y="5914">最近大街小巷，处处都能看到卖桔子的商贩，<tspan x="1888" dy="15.7">处处能听到“正宗慈口蜜桔”的吆喝声，能吃到</tspan><tspan x="1888" dy="15.7">新鲜的桔子很开心，而比吃桔子更开心的是，</tspan><tspan x="1888" dy="15.7">边摘边吃，敞开肚皮吃！慈口的桔子，皮薄易</tspan><tspan x="1888" dy="15.7">剥，肉脆多汁，无核，吃起来清甜，特别是树</tspan><tspan x="1888" dy="15.7">上新鲜摘下来的，味道绝对跟市面上买的绝对</tspan><tspan x="1888" dy="15.7">不一样。</tspan></text>
<text x="1888" y="6062">不负秋日好时光，欢迎大家这个假日就来慈口<tspan x="1888" dy="16">采桔了、剥桔了、吃桔了吧！</tspan></text>
</g>
</g>
</svg>
